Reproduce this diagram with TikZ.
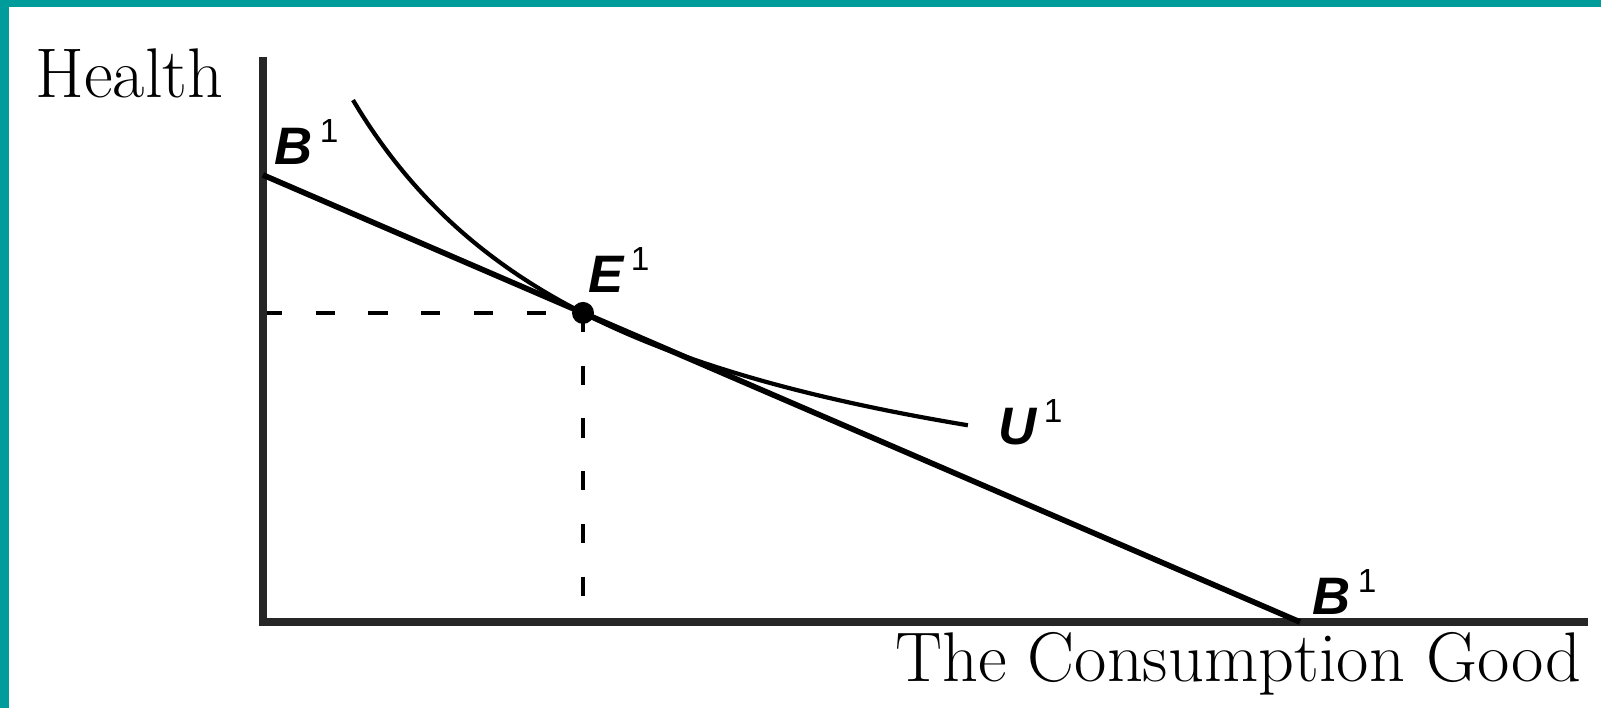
\documentclass[tikz,border=0pt]{standalone}
\usepackage{fontspec}
\newfontfamily\labsans{Liberation Sans}
\usetikzlibrary{calc}
\definecolor{tealedge}{RGB}{0,155,155}
\newcommand{\curvelab}[1]{{\labsans\fontsize{15}{17}\selectfont\bfseries\itshape #1}\hspace{2pt}\raisebox{6.5pt}{\labsans\fontsize{9.5}{11}\selectfont 1}}

\begin{document}
\begin{tikzpicture}[
  axis/.style={draw=black!85,line width=2.4pt},
  budget/.style={line width=1.6pt},
  indiff/.style={line width=1.2pt},
  guide/.style={line width=0.9pt,dash pattern=on 5.5pt off 9.5pt},
  lab/.style={inner sep=0pt,anchor=base west},
  title/.style={inner sep=0pt,font=\fontsize{20}{24}\selectfont}]
\useasboundingbox (0,0) rectangle (16.01,7.08);
\fill[tealedge] (0,7.01) rectangle (16.01,7.08);
\fill[tealedge] (0,0) rectangle (0.09,7.08);
\coordinate (O) at (2.63,0.86);
\coordinate (ytop) at (2.63,6.51);
\coordinate (xend) at (15.88,0.86);
\coordinate (Btop) at (2.63,5.33);
\coordinate (Bbot) at (13.00,0.86);
\coordinate (E) at ($(Btop)!0.3086!(Bbot)$);
\draw[guide] (E -| O) -- (E);
\draw[guide] (E) -- (E |- O);
\draw[axis] (ytop) -- (O) -- (xend);
\draw[budget] (Btop) -- (Bbot);
\draw[indiff] plot[domain=3.53:9.68,samples=80,smooth] (\x,{1.3304+13.4385/(\x-0.7)});
\fill (E) circle (0.11);
\node (hlab) [title,anchor=base west] at (0.35,6.10) {Health};
\node (glab) [title,anchor=base east] at (15.82,0.26) {The Consumption Good};
\node (b1) [lab] at (2.74,5.43) {\curvelab{B}};
\node (e1) [lab] at (5.88,4.15) {\curvelab{E}};
\node (u1) [lab] at (9.98,2.63) {\curvelab{U}};
\node (b2) [lab] at (13.12,0.93) {\curvelab{B}};
\end{tikzpicture}
\end{document}
